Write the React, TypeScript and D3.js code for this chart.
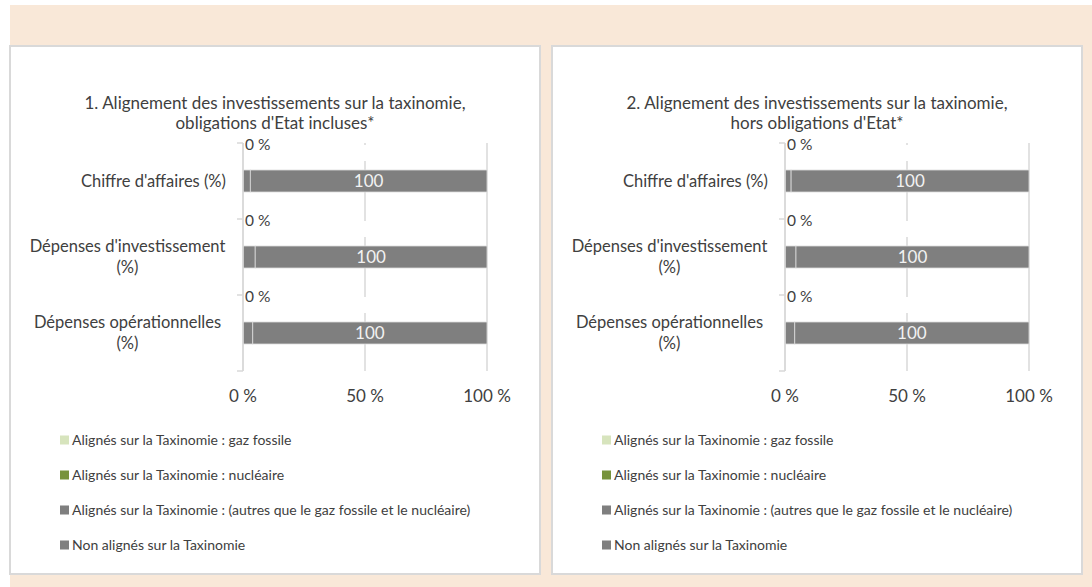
import React, { useEffect } from "react";
import * as d3 from "d3";

// ---------- data ----------
const categoryLines: string[][] = [
  ["Chiffre d'affaires (%)"],
  ["Dépenses d'investissement", "(%)"],
  ["Dépenses opérationnelles", "(%)"],
];
const categories = categoryLines.map((l) => l.join(" "));

const seriesNames = [
  "Alignés sur la Taxinomie : gaz fossile",
  "Alignés sur la Taxinomie : nucléaire",
  "Alignés sur la Taxinomie : (autres que le gaz fossile et le nucléaire)",
  "Non alignés sur la Taxinomie",
];
const seriesColors = ["#d7e4bd", "#77933c", "#7f7f7f", "#7f7f7f"];

const titles1 = ["1. Alignement des investissements sur la taxinomie,", "obligations d'Etat incluses*"];
const titles2 = ["2. Alignement des investissements sur la taxinomie,", "hors obligations d'Etat*"];

// panel 1 (obligations d'Etat incluses)
const gaz1 = [0, 0, 0];
const nucleaire1 = [0, 0, 0];
const autres1 = [3, 5, 4];
const nonAlignes1 = [97, 95, 96];
const autresLabel1 = ["0 %", "0 %", "0 %"];
const nonAlignesLabel1 = ["100", "100", "100"];

// panel 2 (hors obligations d'Etat)
const gaz2 = [0, 0, 0];
const nucleaire2 = [0, 0, 0];
const autres2 = [2.5, 4.5, 4];
const nonAlignes2 = [97.5, 95.5, 96];
const autresLabel2 = ["0 %", "0 %", "0 %"];
const nonAlignesLabel2 = ["100", "100", "100"];

const xTicks = [0, 50, 100];

// ---------- style ----------
const FONT = "Lato, 'Open Sans', sans-serif";
const TEXT = "#404040";
const GRID = "#d9d9d9";

type PanelProps = {
  left: number;
  title: string[];
  gaz: number[];
  nucleaire: number[];
  autres: number[];
  nonAlignes: number[];
  autresLabel: string[];
  nonAlignesLabel: string[];
};

function Panel({ left, title, gaz, nucleaire, autres, nonAlignes, autresLabel, nonAlignesLabel }: PanelProps) {
  const panelW = 530;
  const panelTop = 46;
  const panelH = 528;
  const x = d3.scaleLinear().domain([0, 100]).range([left + 233, left + 477]);
  const y = d3.scaleBand<string>().domain(categories).range([143, 371]).padding(0);
  const barH = 22;

  const table = categories.map((c, i) => ({
    cat: c,
    s0: gaz[i],
    s1: nucleaire[i],
    s2: autres[i],
    s3: nonAlignes[i],
  }));
  const stack = d3.stack<any>().keys(["s0", "s1", "s2", "s3"])(table);

  const cx = left + panelW / 2;
  const axisX = x(0);

  return (
    <g>
      <rect x={left} y={panelTop} width={panelW} height={panelH} fill="#ffffff" stroke={GRID} strokeWidth={2} />
      {title.map((t, i) => (
        <text key={i} x={cx} y={109 + i * 20} textAnchor="middle" fontSize={17} fill={TEXT} fontFamily={FONT}>
          {t}
        </text>
      ))}
      {/* gridlines */}
      {xTicks.map((t) => (
        <line key={t} x1={x(t)} x2={x(t)} y1={y.range()[0]} y2={y.range()[1]} stroke={GRID} strokeWidth={1.5} />
      ))}
      {/* empty label backgrounds masking the middle gridline */}
      {categories.map((c, i) => (
        <rect key={"m" + i} x={x(50) - 3} y={(y(c) as number) + 2} width={6} height={16} fill="#ffffff" />
      ))}
      {/* category ticks */}
      {[...categories.map((c) => y(c) as number), y.range()[1]].map((v, i) => (
        <line key={"t" + i} x1={axisX - 6} x2={axisX} y1={v} y2={v} stroke={GRID} strokeWidth={1.5} />
      ))}
      {/* bars */}
      {stack.map((layer, si) =>
        layer.map((d, i) => {
          const w = x(d[1]) - x(d[0]);
          if (w <= 0) return null;
          return (
            <rect
              key={si + "-" + i}
              x={x(d[0])}
              y={(y(categories[i]) as number) + (y.bandwidth() - barH) / 2}
              width={w}
              height={barH}
              fill={seriesColors[si]}
              stroke="#dcdcdc"
              strokeWidth={0.8}
            />
          );
        })
      )}
      {/* labels */}
      {stack[3].map((d, i) => (
        <text
          key={"l3" + i}
          x={(x(d[0]) + x(d[1])) / 2}
          y={(y(categories[i]) as number) + y.bandwidth() / 2}
          dy="0.36em"
          textAnchor="middle"
          fontSize={17}
          fill="#f2f2f2"
          fontFamily={FONT}
        >
          {nonAlignesLabel[i]}
        </text>
      ))}
      {categories.map((c, i) => (
        <text
          key={"l2" + i}
          x={axisX + 2}
          y={(y(c) as number) + 2}
          dy="0.35em"
          fontSize={15.5}
          fill={TEXT}
          fontFamily={FONT}
        >
          {autresLabel[i]}
        </text>
      ))}
      {/* y axis */}
      <line x1={axisX} x2={axisX} y1={y.range()[0]} y2={y.range()[1]} stroke={GRID} strokeWidth={1.5} />
      {/* category labels */}
      {categoryLines.map((lines, i) => {
        const mid = (y(categories[i]) as number) + y.bandwidth() / 2;
        const lh = 21;
        const startY = mid - ((lines.length - 1) * lh) / 2;
        const widest = 195;
        const blockCenter = axisX - 18 - widest / 2;
        return lines.map((ln, j) => (
          <text
            key={"c" + i + j}
            x={lines.length > 1 ? blockCenter : axisX - 17}
            y={startY + j * lh}
            dy="0.35em"
            textAnchor={lines.length > 1 ? "middle" : "end"}
            fontSize={16.5}
            fill={TEXT}
            fontFamily={FONT}
          >
            {ln}
          </text>
        ));
      })}
      {/* x tick labels */}
      {xTicks.map((t) => (
        <text key={"x" + t} x={x(t)} y={396} dy="0.35em" textAnchor="middle" fontSize={17} fill={TEXT} fontFamily={FONT}>
          {d3.format("d")(t) + " %"}
        </text>
      ))}
      {/* legend */}
      {seriesNames.map((n, i) => (
        <g key={"lg" + i}>
          <rect x={left + 50} y={440 + i * 35 - 4.5} width={9} height={9} fill={seriesColors[i]} />
          <text x={left + 62} y={440 + i * 35} dy="0.35em" fontSize={14} fill={TEXT} fontFamily={FONT}>
            {n}
          </text>
        </g>
      ))}
    </g>
  );
}

export default function App() {
  useEffect(() => {
    document.body.style.margin = "0";
  }, []);
  return (
    <svg width={1092} height={587} style={{ display: "block", background: "#ffffff" }}>
      <rect x={10} y={5} width={1082} height={582} fill="#f9e8d8" />
      <Panel
        left={10}
        title={titles1}
        gaz={gaz1}
        nucleaire={nucleaire1}
        autres={autres1}
        nonAlignes={nonAlignes1}
        autresLabel={autresLabel1}
        nonAlignesLabel={nonAlignesLabel1}
      />
      <Panel
        left={552}
        title={titles2}
        gaz={gaz2}
        nucleaire={nucleaire2}
        autres={autres2}
        nonAlignes={nonAlignes2}
        autresLabel={autresLabel2}
        nonAlignesLabel={nonAlignesLabel2}
      />
    </svg>
  );
}
